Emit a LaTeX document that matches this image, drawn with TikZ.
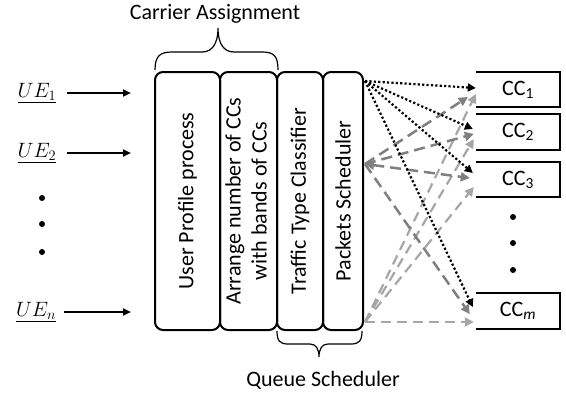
\documentclass[tikz,border=0pt]{standalone}
\usepackage{fontspec}
\setmainfont{Carlito}
\usetikzlibrary{arrows.meta}
\definecolor{dgray}{HTML}{7F7F7F}
\definecolor{lgray}{HTML}{A6A6A6}
\begin{document}
\begin{tikzpicture}[x=1pt,y=-1pt,
  every node/.style={font=\fontsize{22}{26}\selectfont, inner sep=0pt},
  procbox/.style={draw, line width=2pt, rounded corners=8pt, minimum height=258pt},
  ccbox/.style={minimum width=84pt, minimum height=35pt},
  ccedge/.style={line width=2.2pt},
  uearrow/.style={line width=2pt, -{Triangle[length=8pt,width=7pt]}},
  blk/.style={line width=2.2pt, dash pattern=on 2.2pt off 2.2pt, -{Triangle[length=8pt,width=8pt]}},
  dg/.style={dgray, line width=2.5pt, dash pattern=on 11pt off 6pt, -{Triangle[length=9pt,width=9pt]}},
  dgb/.style={dgray, line width=2.5pt, dash pattern=on 11pt off 6pt, {Triangle[length=9pt,width=9pt]}-{Triangle[length=9pt,width=9pt]}},
  lg/.style={lgray, line width=2.2pt, dash pattern=on 10pt off 6pt, -{Triangle[length=9pt,width=9pt]}},
  bracepath/.style={line width=1.2pt},
  dotmark/.style={fill, circle, minimum size=6pt}
]
\useasboundingbox (0,0) rectangle (566,397);

% process boxes
\node[procbox, minimum width=65pt] (b1) at (187.5,201) {\rotatebox{90}{User Profile process}};
\node[procbox, minimum width=57pt] (b2) at (248.5,201) {\rotatebox{90}{\begin{tabular}{@{}c@{}}Arrange number of CCs\\with bands of CCs\end{tabular}}};
\node[procbox, minimum width=46pt] (b3) at (300,201) {\rotatebox{90}{Traffic Type Classifier}};
\node[procbox, minimum width=40pt] (b4) at (343,201) {\rotatebox{90}{Packets Scheduler}};

% braces and their labels
\draw[bracepath] (155,70) .. controls (155,56) and (160,52) .. (172,52) -- (202,52)
  .. controls (212,52) and (218,44) .. (218,28)
  .. controls (218,44) and (224,52) .. (234,52) -- (262,52)
  .. controls (274,52) and (278,56) .. (278,70);
\node (ca) at (215,14) {Carrier Assignment};
\draw[bracepath] (277,331) .. controls (277,341) and (280,344) .. (288,344) -- (310,344)
  .. controls (316,344) and (319,349) .. (319,357)
  .. controls (319,349) and (322,344) .. (328,344) -- (351,344)
  .. controls (359,344) and (362,341) .. (362,331);
\node (qs) at (323,380) {Queue Scheduler};

% UEs
\node (ue1) at (37,93) {$\underline{UE_1}$};
\node (ue2) at (37,153) {$\underline{UE_2}$};
\node (uen) at (36,312) {$\underline{UE_n}$};
\draw[uearrow] ([xshift=11pt]ue1.east) -- ([xshift=-23pt]ue1.east -| b1.west);
\draw[uearrow] ([xshift=11pt]ue2.east) -- ([xshift=-23pt]ue2.east -| b1.west);
\draw[uearrow] ([xshift=8pt]uen.east) -- ([xshift=-23pt]uen.east -| b1.west);
\node[dotmark] (ud1) at (42,198) {};
\node[dotmark] (ud2) at (42,224) {};
\node[dotmark] (ud3) at (42,252) {};

% CC boxes
\node[ccbox] (cc1) at (518,89.5) {CC\textsubscript{1}};
\node[ccbox] (cc2) at (518,132) {CC\textsubscript{2}};
\node[ccbox] (cc3) at (518,179.5) {CC\textsubscript{3}};
\node[ccbox] (ccm) at (518,311) {CC\textsubscript{\textit{m}}};
\foreach \c in {cc1,cc2,cc3,ccm}{
  \draw[ccedge] (\c.north west) -| (\c.south east) -- (\c.south west);
}
\node[dotmark] (cd1) at (513,217) {};
\node[dotmark] (cd2) at (513,243) {};
\node[dotmark] (cd3) at (513,270) {};

% scheduler ports
\coordinate (pTop) at ([xshift=1pt,yshift=-10pt]b4.north east);
\coordinate (pMid) at ([xshift=1pt,yshift=37pt]b4.east);
\coordinate (pBot) at ([xshift=1pt,yshift=9pt]b4.south east);

% light gray dashed
\draw[lg] (pBot) -- ([yshift=-4.5pt]cc1.west);
\draw[lg] (pBot) -- ([xshift=-2pt,yshift=-7pt]cc2.west);
\draw[lg] (pBot) -- ([xshift=-2pt,yshift=-7.5pt]cc3.west);
\draw[lg] (pBot) -- ([xshift=-2pt,yshift=-11pt]ccm.west);
% dark gray dashed
\draw[dg] (pMid) -- ([xshift=-8pt,yshift=-7.5pt]cc1.west);
\draw[dg] (pMid) -- ([xshift=-2pt,yshift=-2pt]cc2.west);
\draw[dgb] (pMid) -- ([xshift=-6pt,yshift=1.5pt]cc3.west);
\draw[dg] (pMid) -- ([xshift=-6pt,yshift=-3pt]ccm.west);
% black dotted
\draw[blk] (pTop) -- ([yshift=1.5pt]cc1.west);
\draw[blk] (pTop) -- ([xshift=-3pt,yshift=3pt]cc2.west);
\draw[blk] (pTop) -- ([xshift=-3pt,yshift=6.5pt]cc3.west);
\draw[blk] (pTop) -- ([xshift=-3pt,yshift=4pt]ccm.west);
\end{tikzpicture}
\end{document}
